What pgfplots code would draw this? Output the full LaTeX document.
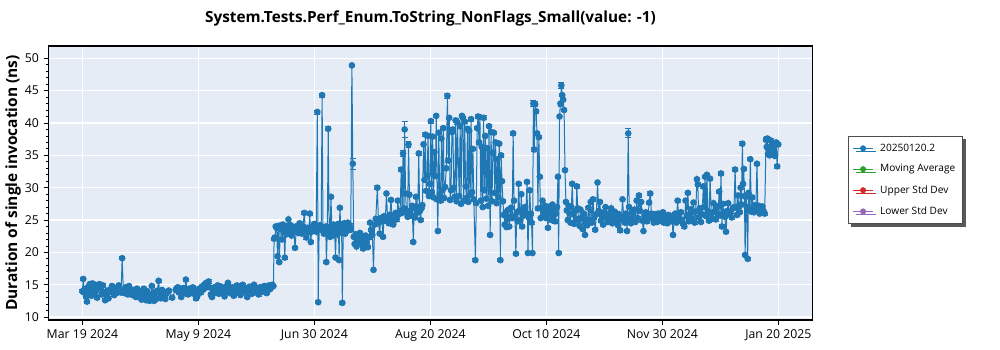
\documentclass[border=0pt]{standalone}
\usepackage{pgfplots}
\usepackage{pgfplotstable}
\pgfplotsset{compat=1.18}
\usepackage{fontspec}
\setmainfont{Open Sans}
\usetikzlibrary{shadows}
\definecolor{c1}{HTML}{1F77B4}
\definecolor{c2}{HTML}{2CA02C}
\definecolor{c3}{HTML}{D62728}
\definecolor{c4}{HTML}{9467BD}
\definecolor{bg}{HTML}{E5ECF6}
\pgfplotstableread{
x y e
0.0 14.0 0.25
0.4 15.9 0.25
0.8 13.8 0.25
1.2 14.3 0.25
1.6 13.2 0.25
2.0 12.4 0.25
2.4 14.6 0.25
2.8 13.9 0.25
3.2 15.1 0.25
3.6 14.8 0.25
4.0 13.3 0.25
4.4 15.2 0.25
4.8 14.5 0.25
5.2 13.6 0.25
5.6 15.0 0.25
6.0 14.1 0.25
6.5 13.0 0.25
7.0 14.7 0.25
7.5 15.1 0.25
8.0 14.4 0.25
8.5 13.5 0.25
9.0 14.9 0.25
9.5 13.8 0.25
10.0 12.6 0.25
10.5 13.4 0.25
11.0 14.1 0.25
11.5 12.9 0.25
12.0 13.9 0.25
12.5 14.3 0.25
13.0 14.8 0.25
13.5 14.0 0.25
14.0 13.4 0.25
14.5 14.5 0.25
15.0 13.7 0.25
15.5 14.2 0.25
16.0 14.9 0.25
16.5 14.3 0.25
17.0 13.8 0.25
17.5 19.1 0.25
18.0 14.2 0.25
18.5 13.7 0.25
19.0 14.6 0.25
19.5 14.0 0.25
20.0 13.5 0.25
20.5 14.8 0.25
21.0 14.3 0.25
21.5 13.8 0.25
22.0 13.4 0.25
22.5 14.2 0.25
23.0 13.9 0.25
23.5 13.1 0.25
24.0 14.4 0.25
24.5 13.7 0.25
25.0 14.1 0.25
25.5 13.0 0.25
26.0 12.7 0.25
26.5 13.8 0.25
27.0 14.4 0.25
27.5 13.2 0.25
28.0 12.6 0.25
28.5 14.0 0.25
29.0 13.5 0.25
29.5 12.5 0.25
30.0 13.4 0.25
30.5 14.8 0.25
31.0 13.2 0.25
31.5 12.5 0.25
32.0 13.9 0.25
32.5 12.8 0.25
33.0 14.1 0.25
33.5 15.6 0.25
34.0 13.7 0.25
34.5 12.9 0.25
35.0 14.2 0.25
35.5 13.3 0.25
36.0 13.9 0.25
36.5 12.8 0.25
37.0 13.6 0.25
38.0 14.1 0.25
39.5 13.0 0.25
41.0 14.2 0.25
41.5 14.5 0.25
42.0 14.6 0.25
42.5 13.8 0.25
43.0 14.3 0.25
43.5 13.1 0.25
44.0 14.0 0.25
44.5 14.5 0.25
45.0 13.7 0.25
45.5 15.8 0.25
46.0 14.2 0.25
46.5 13.5 0.25
47.0 14.4 0.25
47.5 13.9 0.25
48.0 14.1 0.25
48.5 14.6 0.25
49.0 13.6 0.25
49.5 14.3 0.25
50.0 12.9 0.25
50.5 13.2 0.25
51.0 14.0 0.25
51.5 14.4 0.25
52.0 13.8 0.25
52.5 14.7 0.25
53.0 14.2 0.25
53.5 15.0 0.25
54.0 14.5 0.25
54.5 15.3 0.25
55.0 14.8 0.25
55.5 15.5 0.25
56.0 14.6 0.25
56.5 13.5 0.25
57.0 13.1 0.25
57.5 14.2 0.25
58.0 14.6 0.25
58.5 13.8 0.25
59.0 14.4 0.25
59.5 14.9 0.25
60.0 13.6 0.25
60.5 14.1 0.25
61.0 14.7 0.25
61.5 13.9 0.25
62.0 14.4 0.25
62.5 13.2 0.25
63.0 14.0 0.25
63.5 14.8 0.25
64.0 15.3 0.25
64.5 14.4 0.25
65.0 13.7 0.25
65.5 14.2 0.25
66.0 14.6 0.25
66.5 13.3 0.25
67.0 14.0 0.25
67.5 14.5 0.25
68.0 14.9 0.25
68.5 13.8 0.25
69.0 14.3 0.25
69.5 13.4 0.25
70.0 14.1 0.25
70.5 15.0 0.25
71.0 14.6 0.25
71.5 13.9 0.25
72.0 14.4 0.25
72.5 13.1 0.25
73.0 14.2 0.25
73.5 14.7 0.25
74.0 14.0 0.25
74.5 13.6 0.25
75.0 14.3 0.25
75.5 15.0 0.25
76.0 14.5 0.25
76.5 13.8 0.25
77.0 14.2 0.25
77.5 13.5 0.25
78.0 14.6 0.25
78.5 14.1 0.25
79.0 13.9 0.25
79.5 14.4 0.25
80.0 14.8 0.25
80.5 14.2 0.25
81.0 13.7 0.25
81.5 14.5 0.25
82.0 14.9 0.25
82.5 14.3 0.25
83.0 14.6 0.25
83.5 15.0 0.25
84.0 14.8 0.25
84.3 22.1 0.25
84.7 22.3 0.25
85.0 24.0 0.25
85.4 23.8 0.25
85.8 19.4 0.25
86.2 24.1 0.25
86.6 18.5 0.25
87.0 23.6 0.25
87.4 24.2 0.25
87.8 22.0 0.25
88.2 24.3 0.25
88.6 23.1 0.25
89.0 19.2 0.25
89.4 23.9 0.25
89.8 22.8 0.25
90.2 24.1 0.25
90.6 25.1 0.25
91.0 23.4 0.25
91.5 24.2 0.25
92.0 22.6 0.25
92.5 24.0 0.25
93.0 23.2 0.25
93.5 20.7 0.25
94.0 23.3 0.25
94.5 24.1 0.25
95.0 23.0 0.25
95.5 24.5 0.25
96.0 23.7 0.25
96.5 22.9 0.25
97.0 24.0 0.25
97.6 26.1 0.25
98.0 23.4 0.25
98.5 22.3 0.25
99.0 23.8 0.25
99.5 23.1 0.25
100.0 26.0 0.25
100.4 21.6 0.25
100.8 23.2 0.25
101.2 24.0 0.25
101.6 23.5 0.25
102.0 24.4 0.25
102.4 23.9 0.25
102.8 23.2 0.25
103.3 41.7 0.3
103.7 12.3 0.25
104.1 23.6 0.25
104.5 24.2 0.25
105.0 23.5 0.25
105.4 44.3 0.3
105.8 23.8 0.25
106.2 22.9 0.25
106.6 23.4 0.25
107.0 24.0 0.25
107.3 18.5 0.25
107.7 23.5 0.25
108.1 39.1 0.3
108.5 23.2 0.25
108.9 22.4 0.25
109.3 28.6 0.25
109.7 23.8 0.25
110.1 22.6 0.25
110.5 24.3 0.25
110.9 23.5 0.25
111.3 19.2 0.25
111.7 23.9 0.25
112.1 22.8 0.25
112.5 24.4 0.25
112.9 18.8 0.25
113.2 26.9 0.25
113.6 24.2 0.25
114.0 23.0 0.25
114.3 12.2 0.25
114.7 23.6 0.25
115.1 24.5 0.25
115.5 22.9 0.25
115.9 24.1 0.25
116.3 23.3 0.25
116.7 24.6 0.25
117.1 23.8 0.25
117.5 24.2 0.25
118.0 23.5 0.25
118.5 48.9 0.2
118.9 33.7 0.8
119.3 22.4 0.25
119.7 21.3 0.25
120.1 22.8 0.25
120.5 20.9 0.25
121.0 22.2 0.25
121.5 21.6 0.25
122.0 23.0 0.25
122.5 21.2 0.25
123.0 22.5 0.25
123.5 20.6 0.25
124.0 21.9 0.25
124.5 22.6 0.25
125.0 21.4 0.25
125.5 20.8 0.25
126.0 22.3 0.25
126.5 24.6 0.25
127.0 23.5 0.25
127.5 22.7 0.25
128.0 17.3 0.25
128.5 24.3 0.25
129.0 25.2 0.25
129.7 30.0 0.3
130.2 24.6 0.25
130.7 22.9 0.25
131.2 25.3 0.25
131.7 24.8 0.25
132.2 22.4 0.25
132.7 25.6 0.25
133.2 24.9 0.25
133.7 29.1 0.25
134.2 25.2 0.25
134.7 24.5 0.25
135.2 25.8 0.25
135.7 28.1 0.25
136.2 25.0 0.25
136.7 24.3 0.25
137.2 25.7 0.25
137.7 26.1 0.25
138.2 25.1 0.25
138.7 28.0 0.25
139.2 25.9 0.25
139.7 26.4 0.25
140.2 32.8 0.3
140.6 26.1 0.25
141.0 35.3 0.4
141.4 26.8 0.25
141.7 39.0 1.3
142.1 29.1 0.25
142.5 26.2 0.25
143.0 25.5 0.25
143.4 36.7 0.5
143.8 28.9 0.25
144.2 26.5 0.25
144.6 25.7 0.25
145.0 27.2 0.25
145.5 21.6 0.25
145.9 26.9 0.25
146.3 25.4 0.25
146.7 28.6 0.25
147.1 26.1 0.25
147.5 27.0 0.25
147.9 35.3 0.3
148.3 26.4 0.25
148.7 25.0 0.25
149.1 26.8 0.25
149.5 27.3 0.25
150.0 36.7 0.3
150.4 31.2 0.25
150.8 38.2 0.3
151.2 29.5 0.25
151.6 31.9 0.25
152.0 38.0 0.25
152.4 28.7 0.25
152.8 30.6 0.25
153.2 40.3 0.3
153.6 29.3 0.25
154.0 37.9 0.25
154.4 28.5 0.25
154.8 35.5 0.25
155.2 31.8 0.25
155.6 41.1 0.3
156.0 28.2 0.25
156.3 23.3 0.25
156.7 38.5 0.25
157.1 29.0 0.25
157.5 28.0 0.25
157.9 37.6 0.25
158.3 29.6 0.25
158.7 39.2 0.25
159.1 28.4 0.25
159.5 30.1 0.25
160.0 33.0 0.25
160.5 44.2 0.4
160.9 34.2 0.25
161.3 40.8 0.25
161.7 28.1 0.25
162.1 29.6 0.25
162.5 38.6 0.25
162.9 39.0 0.25
163.3 30.0 0.25
163.7 28.6 0.25
164.1 40.4 0.3
164.5 27.9 0.25
164.9 40.1 0.25
165.3 34.0 0.25
165.7 28.7 0.25
166.1 39.5 0.25
166.5 27.5 0.25
166.9 41.1 0.3
167.3 40.8 0.25
167.7 28.0 0.25
168.1 40.2 0.25
168.5 30.2 0.25
168.9 28.4 0.25
169.3 39.1 0.25
169.7 27.8 0.25
170.1 38.8 0.25
170.5 28.9 0.25
170.9 40.6 0.3
171.3 29.3 0.25
171.7 36.0 0.25
172.1 28.2 0.25
172.8 18.8 0.25
173.2 27.6 0.25
173.6 39.2 0.25
174.0 41.0 0.3
174.4 37.0 0.25
174.8 40.9 0.25
175.2 28.0 0.25
175.6 36.3 0.25
176.0 27.0 0.25
176.4 40.8 0.3
176.8 29.6 0.25
177.2 38.0 0.25
177.6 28.3 0.25
178.0 36.1 0.25
178.4 27.2 0.25
178.8 39.5 0.25
179.3 22.7 0.25
179.7 38.6 0.25
180.1 27.9 0.25
180.5 35.4 0.25
180.9 38.5 0.25
181.3 29.2 0.25
181.7 37.0 0.25
182.1 27.6 0.25
182.5 34.4 0.25
182.9 28.5 0.25
183.3 36.8 0.25
183.8 18.8 0.25
184.1 35.0 0.25
184.5 31.0 0.25
184.9 27.9 0.25
185.3 25.8 0.25
185.7 24.3 0.25
186.1 26.2 0.25
186.5 23.9 0.25
186.9 25.1 0.25
187.3 26.6 0.25
187.7 24.0 0.25
188.1 25.5 0.25
188.5 26.9 0.25
189.0 25.3 0.25
189.4 38.4 0.25
189.8 28.0 0.25
190.2 25.6 0.25
190.6 19.8 0.25
191.0 26.2 0.25
191.4 24.8 0.25
191.8 30.6 0.25
192.2 26.5 0.25
192.6 25.0 0.25
193.0 29.0 0.25
193.4 24.0 0.25
193.8 26.3 0.25
194.2 25.7 0.25
194.6 27.0 0.25
195.0 26.1 0.25
195.5 30.9 0.25
195.9 19.9 0.25
196.3 25.4 0.25
196.7 29.6 0.25
197.1 26.0 0.25
197.5 24.6 0.25
197.9 19.9 0.25
198.3 43.0 0.5
198.7 35.9 0.25
199.1 42.9 0.4
199.5 41.8 0.25
199.9 38.4 0.25
200.3 26.8 0.25
200.7 37.8 0.25
201.1 31.7 0.25
201.5 25.3 0.25
201.9 26.9 0.25
202.3 28.0 0.25
202.7 25.6 0.25
203.1 26.4 0.25
203.5 27.2 0.25
203.9 25.3 0.25
204.3 26.7 0.25
204.7 23.8 0.25
205.1 25.9 0.25
205.5 27.1 0.25
205.9 26.2 0.25
206.3 25.0 0.25
206.7 27.4 0.25
207.1 25.6 0.25
207.5 26.6 0.25
207.9 24.8 0.25
208.3 26.0 0.25
208.7 27.0 0.25
209.1 31.7 0.25
209.4 19.9 0.25
209.8 41.0 0.25
210.2 43.0 0.4
210.6 45.8 0.4
211.0 44.3 0.25
211.4 43.6 0.25
211.8 42.0 0.25
212.2 32.7 0.25
212.6 27.8 0.25
213.0 26.5 0.25
213.4 25.0 0.25
213.8 27.2 0.25
214.2 26.0 0.25
214.6 24.6 0.25
215.0 27.0 0.25
215.4 30.6 0.25
215.8 25.9 0.25
216.2 24.4 0.25
216.6 26.4 0.25
217.0 25.2 0.25
217.4 30.2 0.25
217.8 26.8 0.25
218.2 25.0 0.25
218.6 24.1 0.25
219.0 26.6 0.25
219.5 25.3 0.25
220.0 23.6 0.25
220.5 26.0 0.25
221.0 22.7 0.25
221.5 25.1 0.25
222.0 24.2 0.25
222.5 26.9 0.25
223.0 25.0 0.25
223.5 27.8 0.25
224.0 24.6 0.25
224.5 28.2 0.25
225.0 25.4 0.25
225.5 23.5 0.25
226.0 25.9 0.25
226.5 30.8 0.25
227.0 26.4 0.25
227.5 27.8 0.25
228.0 24.9 0.25
228.5 25.6 0.25
229.0 24.3 0.25
229.5 26.2 0.25
230.0 27.0 0.25
230.5 25.3 0.25
231.0 24.7 0.25
231.5 26.0 0.25
232.0 25.4 0.25
232.5 26.8 0.25
233.0 24.5 0.25
233.5 25.7 0.25
234.0 26.3 0.25
234.5 24.9 0.25
235.0 25.6 0.25
235.5 24.2 0.25
236.0 25.9 0.25
236.5 23.4 0.25
237.0 25.1 0.25
237.5 28.2 0.25
238.0 25.5 0.25
238.5 24.6 0.25
239.0 26.0 0.25
239.5 23.3 0.25
240.0 38.4 0.7
240.4 27.0 0.25
240.8 25.2 0.25
241.2 24.5 0.25
241.7 26.1 0.25
242.2 25.0 0.25
242.7 26.6 0.25
243.2 24.7 0.25
243.7 28.0 0.25
244.2 25.3 0.25
244.7 28.8 0.25
245.2 26.4 0.25
245.7 27.8 0.25
246.2 24.9 0.25
246.7 23.3 0.25
247.2 25.6 0.25
247.7 26.2 0.25
248.2 24.8 0.25
248.7 25.5 0.25
249.2 27.7 0.25
249.7 29.1 0.25
250.2 26.0 0.25
250.7 25.2 0.25
251.2 24.6 0.25
251.7 25.9 0.25
252.2 25.3 0.25
252.7 24.7 0.25
253.2 26.0 0.25
253.7 25.5 0.25
254.2 24.9 0.25
254.7 25.7 0.25
255.2 26.2 0.25
255.7 24.6 0.25
256.2 25.4 0.25
256.7 25.0 0.25
257.2 24.5 0.25
257.7 25.8 0.25
258.2 25.2 0.25
258.7 24.8 0.25
259.2 25.6 0.25
259.7 22.7 0.25
260.2 25.1 0.25
260.7 26.0 0.25
261.2 24.6 0.25
261.7 28.0 0.25
262.2 25.4 0.25
262.7 24.9 0.25
263.2 26.2 0.25
263.7 25.0 0.25
264.2 24.4 0.25
264.7 24.0 0.25
265.2 28.0 0.25
265.7 25.6 0.25
266.2 29.2 0.25
266.7 24.8 0.25
267.2 25.9 0.25
267.7 26.7 0.25
268.2 25.2 0.25
268.7 27.7 0.25
269.2 24.6 0.25
269.7 26.3 0.25
270.2 31.3 0.25
270.6 30.5 0.25
271.0 25.4 0.25
271.5 26.8 0.25
272.0 24.7 0.25
272.5 25.9 0.25
273.0 30.2 0.25
273.4 27.0 0.25
273.8 31.7 0.25
274.2 25.6 0.25
274.6 32.0 0.25
275.0 26.4 0.25
275.5 24.9 0.25
276.0 31.4 0.25
276.5 26.0 0.25
277.0 25.2 0.25
277.5 27.6 0.25
278.0 26.3 0.25
278.5 25.1 0.25
279.0 27.1 0.25
279.5 26.0 0.25
280.0 29.4 0.25
280.4 25.7 0.25
280.8 32.2 0.25
281.2 24.0 0.25
281.6 27.5 0.25
282.0 26.1 0.25
282.5 25.5 0.25
283.0 23.2 0.25
283.5 26.4 0.25
284.0 27.6 0.25
284.5 25.9 0.25
285.0 26.3 0.25
285.5 25.4 0.25
286.0 26.8 0.25
286.5 27.0 0.25
287.0 32.8 0.3
287.4 27.0 0.25
287.8 25.8 0.25
288.2 28.8 0.25
288.6 27.0 0.25
289.0 26.2 0.25
289.4 30.0 0.25
289.8 27.4 0.25
290.2 36.8 0.3
290.5 30.6 0.25
290.8 32.9 0.25
291.1 28.7 0.25
291.4 19.6 0.25
291.8 28.6 0.25
292.1 27.0 0.25
292.5 19.0 0.25
292.9 29.2 0.25
293.3 26.5 0.25
293.7 34.4 0.25
294.1 26.3 0.25
294.5 28.5 0.25
294.9 27.0 0.25
295.3 26.2 0.25
295.7 27.3 0.25
296.1 26.5 0.25
296.6 33.7 0.25
297.0 26.6 0.25
297.4 27.2 0.25
297.8 26.0 0.25
298.2 26.8 0.25
298.6 26.2 0.25
299.0 27.1 0.25
299.5 26.4 0.25
300.0 26.0 0.25
300.6 37.4 0.3
300.9 36.3 0.25
301.2 37.6 0.25
301.5 35.2 0.25
301.8 36.0 0.25
302.2 35.0 0.25
302.6 37.3 0.25
303.0 36.5 0.25
303.5 36.0 0.25
304.0 35.3 0.25
304.5 34.9 0.25
305.0 37.0 0.25
305.5 33.3 0.25
306.0 36.7 0.25
}\datatable
\begin{document}
\begin{tikzpicture}
\path[use as bounding box] (0pt,0pt) rectangle (750pt,262.5pt);
\begin{axis}[
  at={(36.2pt,22.5pt)}, anchor=south west,
  width=573.3pt, height=205.5pt, scale only axis,
  xmin=-15, xmax=321.1, ymin=9.55, ymax=51.9,
  axis background/.style={fill=bg},
  axis line style={black, line width=0.8pt},
  xtick={0,51,102,153,204,255,306},
  xticklabels={Mar 19 2024, May 9 2024, Jun 30 2024, Aug 20 2024, Oct 10 2024, Nov 30 2024, Jan 20 2025},
  ytick={10,15,...,50},
  minor y tick num=4,
  tick align=outside, tickpos=left,
  major tick length=3.5pt, minor tick length=2pt,
  tick style={black, line width=0.6pt},
  grid=major,
  major grid style={white, line width=0.9pt},
  ticklabel style={font=\fontsize{9.2}{11}\selectfont},
  /pgf/number format/assume math mode=true,
  xticklabel style={yshift=-0.5pt},
  title={System.Tests.Perf\_Enum.ToString\_NonFlags\_Small(value: -1)},
  title style={font=\bfseries\fontsize{11.5}{13}\selectfont, yshift=5pt},
  ylabel={Duration of single invocation (ns)},
  ylabel style={font=\bfseries\fontsize{11.6}{14}\selectfont, at={(axis description cs:-0.046,0.5)}, anchor=center},
  legend style={at={(axis description cs:1.0457,0.6715)}, anchor=north west,
    draw=black!70, fill=white, line width=0.5pt,
    drop shadow={shadow xshift=2.2pt, shadow yshift=-2.2pt, fill=black!65, opacity=1},
    font=\fontsize{7.6}{9}\selectfont, row sep=4.6pt, inner sep=3.5pt,
    cells={anchor=west},
    /tikz/every odd column/.append style={column sep=3pt}},
  legend image code/.code={\draw[mark repeat=2, mark phase=2, #1] plot coordinates {(0pt,0pt) (7.5pt,0pt) (15pt,0pt)};},
  legend image post style={line width=0.7pt, mark size=1.9pt},
]
\addplot[color=c1, line width=0.75pt, mark=*, mark size=2.1pt,
  mark options={fill=c1, draw=c1},
  error bars/.cd, y dir=both, y explicit,
  error bar style={color=c1, line width=0.6pt},
  error mark options={rotate=90, mark size=2.2pt, line width=0.6pt, color=c1}]
  table[x=x, y=y, y error=e] {\datatable};
\addlegendentry{20250120.2}
\addlegendimage{color=c2, mark=*, mark options={fill=c2}}
\addlegendentry{Moving Average}
\addlegendimage{color=c3, mark=*, mark options={fill=c3}}
\addlegendentry{Upper Std Dev}
\addlegendimage{color=c4, mark=*, mark options={fill=c4}}
\addlegendentry{Lower Std Dev}
\end{axis}
\end{tikzpicture}
\end{document}
